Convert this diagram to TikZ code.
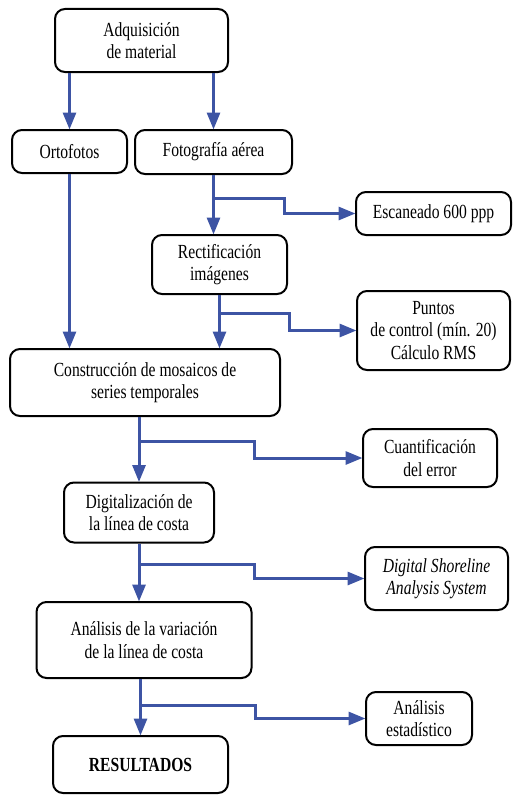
\documentclass[tikz,border=0pt]{standalone}
\usepackage{fontspec}
\setmainfont{Liberation Serif}[FakeStretch=0.78]
\usetikzlibrary{arrows.meta}
\definecolor{flowblue}{HTML}{3D54A4}
\tikzset{
  box/.style={draw=black, line width=2pt, rounded corners=10pt, align=center,
    inner sep=0pt, font=\fontsize{20}{22.5}\selectfont},
  link/.style={draw=flowblue, line width=3pt},
  arr/.style={link, -{Triangle[length=17pt,width=13pt]}, shorten >=-0.5pt}
}
\begin{document}
\begin{tikzpicture}[x=1pt,y=-1pt]
\useasboundingbox (0,0) rectangle (530,800);
% nodes
\node[box, minimum width=173pt, minimum height=63pt] (adq) at (141.5,40.5) {Adquisición\\de material};
\node[box, minimum width=115pt, minimum height=43pt] (orto) at (69.5,151.5) {Ortofotos};
\node[box, minimum width=157pt, minimum height=44pt] (foto) at (213.5,152) {Fotografía aérea};
\node[box, minimum width=155pt, minimum height=43pt] (esc) at (433.5,213.5) {Escaneado 600 ppp};
\node[box, minimum width=135pt, minimum height=59pt] (rect) at (219.5,264.5) {Rectificación\\imágenes};
\node[box, minimum width=153pt, minimum height=79pt] (pts) at (433.5,330.5) {Puntos\\de control (mín. 20)\\Cálculo RMS};
\node[box, minimum width=270pt, minimum height=67pt] (constr) at (145,382.5) {Construcción de mosaicos de\\series temporales};
\node[box, minimum width=134pt, minimum height=58pt] (cuant) at (430,458) {Cuantificación\\del error};
\node[box, minimum width=150pt, minimum height=60pt] (digit) at (139,512.5) {Digitalización de\\la línea de costa};
\node[box, minimum width=143pt, minimum height=63pt] (dsas) at (436.5,578.5) {\itshape Digital Shoreline\\\itshape Analysis System};
\node[box, minimum width=215pt, minimum height=76pt] (anal) at (144,640) {Análisis de la variación\\de la línea de costa};
\node[box, minimum width=106pt, minimum height=53pt] (ae) at (419,718.5) {Análisis\\estadístico};
\node[box, minimum width=175pt, minimum height=57pt] (res) at (140.5,764.5) {\bfseries RESULTADOS};
% step coordinates of the side branches
\coordinate (s1) at (284,198);
\coordinate (s2) at (289,313);
\coordinate (s3) at (254,441);
\coordinate (s4) at (254,564);
\coordinate (s5) at (255,705);
% trunk arrows
\draw[arr] (orto.north |- adq.south) -- (orto.north);
\draw[arr] (foto.north |- adq.south) -- (foto.north);
\draw[arr] (foto.south) -- (foto.south |- rect.north);
\draw[arr] (orto.south) -- (orto.south |- constr.north);
\draw[arr] (rect.south) -- (rect.south |- constr.north);
\draw[arr] (digit.north |- constr.south) -- (digit.north);
\draw[arr] (digit.south) -- (digit.south |- anal.north);
\draw[arr] (res.north |- anal.south) -- (res.north);
% side branches
\draw[arr] (foto.south |- s1) -- (s1) -- (s1 |- esc.west) -- (esc.west);
\draw[arr] (rect.south |- s2) -- (s2) -- (s2 |- pts.west) -- (pts.west);
\draw[arr] (digit.north |- s3) -- (s3) -- (s3 |- cuant.west) -- (cuant.west);
\draw[arr] (digit.south |- s4) -- (s4) -- (s4 |- dsas.west) -- (dsas.west);
\draw[arr] (res.north |- s5) -- (s5) -- (s5 |- ae.west) -- (ae.west);
\end{tikzpicture}
\end{document}
